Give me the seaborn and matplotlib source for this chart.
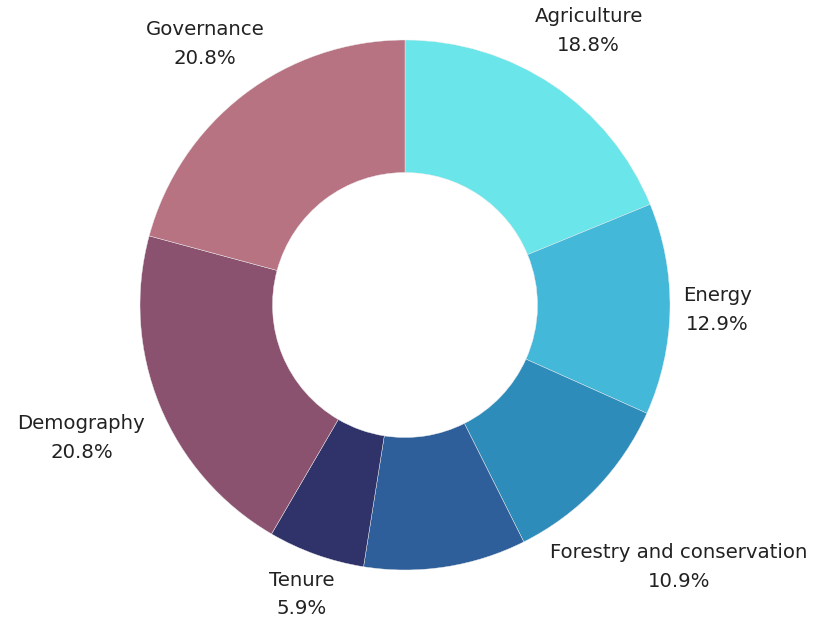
import numpy as np
import matplotlib
matplotlib.use("Agg")
import matplotlib.pyplot as plt
import seaborn as sns

# ----------------------------------------------------------
# Data
# ----------------------------------------------------------

categories = [
    "Agriculture",
    "Energy",
    "Forestry and conservation",
    "",
    "Tenure",
    "Demography",
    "Governance",
]
shares = [18.8, 12.9, 10.9, 9.9, 5.9, 20.8, 20.8]
colors = [
    "#6AE5E9",
    "#43B8D8",
    "#2E8CBB",
    "#2E5F9A",
    "#30336A",
    "#8A526F",
    "#B87383",
]
# distance of each label from the centre (in outer radii)
label_dist = [1.245, 1.18, 1.43, 1.2, 1.16, 1.32, 1.24]

# ----------------------------------------------------------
# Figure
# ----------------------------------------------------------

sns.set_theme(style="white")
plt.rcParams["font.family"] = ["DejaVu Sans"]

fig = plt.figure(figsize=(8.17, 6.21), dpi=100)
ax = fig.add_axes([0, 0, 1, 1])

wedges, _ = ax.pie(
    shares,
    colors=colors,
    startangle=90,
    counterclock=False,
    radius=1,
    wedgeprops=dict(width=0.5, edgecolor="#eeeeee", linewidth=0.3),
)

total = sum(shares)
cum = 0
for name, val, dist in zip(categories, shares, label_dist):
    mid = 90 - (cum + val / 2) / total * 360
    cum += val
    if not name:
        continue
    x = dist * np.cos(np.radians(mid))
    y = dist * np.sin(np.radians(mid))
    ax.text(
        x, y,
        f"{name}\n{val:.1f}%",
        ha="center", va="center",
        fontsize=14.2, color="#222222",
        linespacing=1.65,
    )

# centre at (405, 305) px with outer radius 265 px
R = 265
cx, cy = 405, 305
ax.set_xlim(-cx / R, (817 - cx) / R)
ax.set_ylim(-(621 - cy) / R, cy / R)
ax.set_aspect("equal")
ax.axis("off")

fig.savefig("out.png", dpi=100, facecolor="white")
plt.close()
